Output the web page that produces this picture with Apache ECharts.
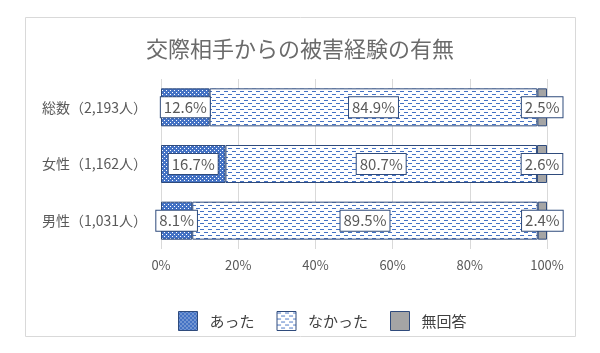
<!DOCTYPE html>
<html>
<head>
<meta charset="utf-8">
<script src="https://cdn.jsdelivr.net/npm/echarts@6/dist/echarts.min.js"></script>
<style>
html,body{margin:0;padding:0;background:#fff;}
#chart{width:600px;height:353px;}
</style>
</head>
<body>
<div id="chart"></div>
<script>
var categories = ['総数（2,193人）', '女性（1,162人）', '男性（1,031人）'];
var atta = [12.6, 16.7, 8.1];
var nakatta = [84.9, 80.7, 89.5];
var mukaitou = [2.5, 2.6, 2.4];
var xTicks = [0, 20, 40, 60, 80, 100];

// dotted blue fill
function dotPattern(){
    var c = document.createElement('canvas');
    c.width = 4; c.height = 4;
    var g = c.getContext('2d');
    g.fillStyle = '#4472c4';
    g.fillRect(0, 0, 4, 4);
    g.fillStyle = '#ffffff';
    g.fillRect(0, 0, 1, 1);
    g.fillRect(2, 2, 1, 1);
    return c;
}
// dashed lines on white
function dashPattern(){
    var c = document.createElement('canvas');
    c.width = 8; c.height = 6;
    var g = c.getContext('2d');
    g.fillStyle = '#ffffff';
    g.fillRect(0, 0, 8, 6);
    g.fillStyle = '#4472c4';
    g.fillRect(0, 1, 4, 1);
    g.fillRect(4, 4, 4, 1);
    return c;
}

var myChart = echarts.init(document.getElementById('chart'));
var font = '"Noto Sans CJK JP", sans-serif';
var navy = '#2f4b7c';

var labelStyle = {
    show: true,
    position: 'inside',
    formatter: function(p){ return p.value.toFixed(1) + '%'; },
    color: '#595959',
    fontFamily: font,
    fontSize: 15,
    backgroundColor: '#ffffff',
    borderColor: navy,
    borderWidth: 1,
    padding: [3, 3, 2, 3]
};

option = {
    animation: false,
    textStyle: { fontFamily: font },
    title: {
        text: '交際相手からの被害経験の有無',
        left: 'center',
        top: 33,
        textStyle: { color: '#6b6b6b', fontSize: 22, fontWeight: 'normal', fontFamily: font }
    },
    graphic: [{
        type: 'rect',
        shape: { x: 25.5, y: 17.5, width: 550, height: 319 },
        style: { fill: 'none', stroke: '#d9d9d9', lineWidth: 1 },
        silent: true
    }],
    legend: {
        bottom: 17,
        left: 173,
        icon: 'rect',
        itemWidth: 19,
        itemHeight: 19,
        itemGap: 22,
        textStyle: { color: '#404040', fontSize: 15, fontFamily: font, padding: [0, 0, 0, 7] },
        itemStyle: { borderColor: navy, borderWidth: 1 },
        data: [
            { name: 'あった', textStyle: { padding: [0, 16, 0, 7] } },
            'なかった',
            '無回答'
        ]
    },
    grid: { left: 161, right: 53, top: 79, height: 170 },
    xAxis: {
        type: 'value',
        min: 0,
        max: 100,
        interval: 20,
        axisLabel: {
            color: '#595959',
            fontSize: 13,
            margin: 10,
            formatter: function(v){ return xTicks.indexOf(v) >= 0 ? v + '%' : ''; }
        },
        axisLine: { show: false },
        axisTick: { show: false },
        splitLine: { lineStyle: { color: '#d9d9d9' } }
    },
    yAxis: {
        type: 'category',
        inverse: true,
        data: categories,
        axisLabel: { color: '#595959', fontSize: 14, margin: 14 },
        axisLine: { show: false },
        axisTick: { show: false }
    },
    series: [
        {
            name: 'あった',
            type: 'bar',
            stack: 'total',
            barWidth: 38,
            data: atta,
            itemStyle: { color: { image: dotPattern(), repeat: 'repeat' }, borderColor: navy, borderWidth: 1 },
            label: labelStyle
        },
        {
            name: 'なかった',
            type: 'bar',
            stack: 'total',
            data: nakatta,
            itemStyle: { color: { image: dashPattern(), repeat: 'repeat' }, borderColor: navy, borderWidth: 1 },
            label: labelStyle
        },
        {
            name: '無回答',
            type: 'bar',
            stack: 'total',
            data: mukaitou,
            itemStyle: { color: '#a5a5a5', borderColor: navy, borderWidth: 1 },
            label: labelStyle
        }
    ]
};
myChart.setOption(option);
</script>
</body>
</html>
